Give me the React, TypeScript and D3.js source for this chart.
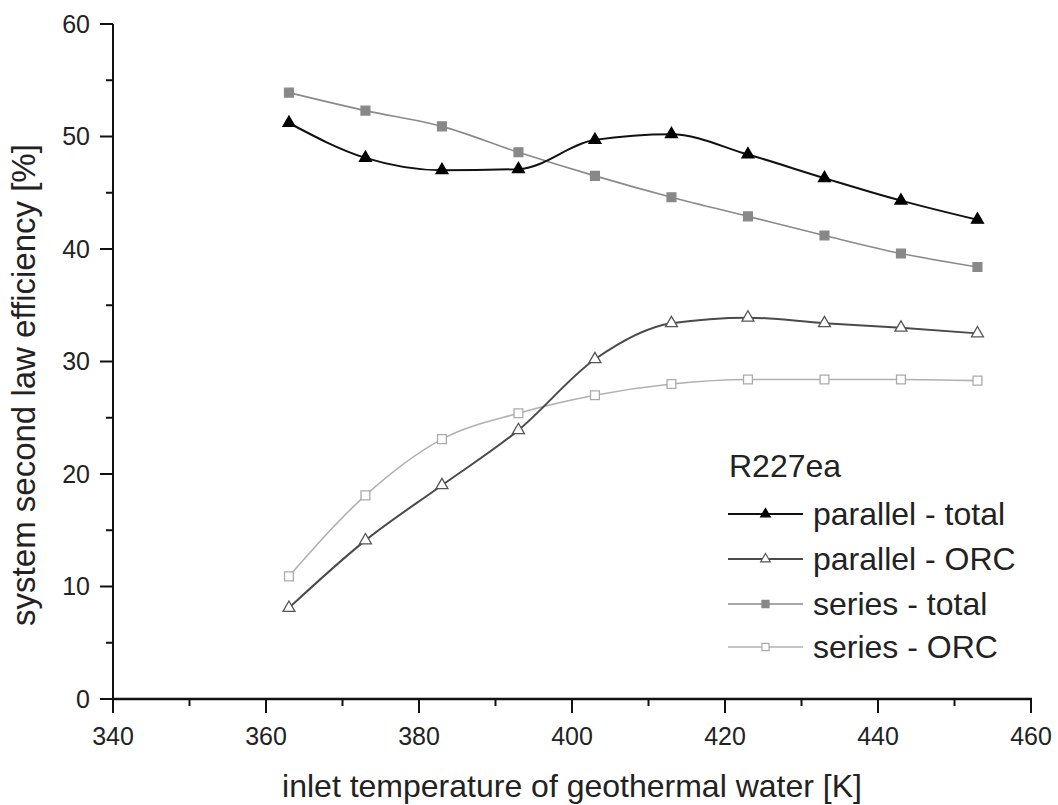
import React from "react";
import * as d3 from "d3";

const temperatures = [363, 373, 383, 393, 403, 413, 423, 433, 443, 453];
const parallelTotal = [51.2, 48.1, 47.0, 47.1, 49.7, 50.2, 48.4, 46.3, 44.3, 42.6];
const parallelORC = [8.1, 14.1, 19.0, 23.9, 30.2, 33.4, 33.9, 33.4, 33.0, 32.5];
const seriesTotal = [53.9, 52.3, 50.9, 48.6, 46.5, 44.6, 42.9, 41.2, 39.6, 38.4];
const seriesORC = [10.9, 18.1, 23.1, 25.4, 27.0, 28.0, 28.4, 28.4, 28.4, 28.3];

const xMajorTicks = [340, 360, 380, 400, 420, 440, 460];
const xMinorTicks = [350, 370, 390, 410, 430, 450];
const yMajorTicks = [0, 10, 20, 30, 40, 50, 60];
const yMinorTicks = [5, 15, 25, 35, 45, 55];

const legendTitle = "R227ea";
const xTitle = "inlet temperature of geothermal water [K]";
const yTitle = "system second law efficiency [%]";

type Series = {
  name: string;
  values: number[];
  symbol: "triangle" | "square";
  stroke: string;
  lineWidth: number;
  fill: string;
  markerStroke: string;
};

const seriesList: Series[] = [
  { name: "parallel - total", values: parallelTotal, symbol: "triangle", stroke: "#111", lineWidth: 2, fill: "#000", markerStroke: "#000" },
  { name: "parallel - ORC", values: parallelORC, symbol: "triangle", stroke: "#4a4a4a", lineWidth: 2, fill: "#fff", markerStroke: "#555" },
  { name: "series - total", values: seriesTotal, symbol: "square", stroke: "#8a8a8a", lineWidth: 1.6, fill: "#888", markerStroke: "#888" },
  { name: "series - ORC", values: seriesORC, symbol: "square", stroke: "#b0b0b0", lineWidth: 1.6, fill: "#fff", markerStroke: "#aaa" },
];

const FONT = "Arial, 'Liberation Sans', Helvetica, sans-serif";

export default function App() {
  React.useEffect(() => {
    document.body.style.margin = "0";
  }, []);

  const W = 1058;
  const H = 805;
  const left = 113;
  const right = 1031;
  const top = 24;
  const bottom = 699;

  const x = d3.scaleLinear().domain([340, 460]).range([left, right]);
  const y = d3.scaleLinear().domain([0, 60]).range([bottom, top]);

  const line = d3
    .line<number>()
    .x((_, i) => x(temperatures[i]))
    .y((d) => y(d))
    .curve(d3.curveMonotoneX);

  const symPath = (s: Series, big: boolean) => {
    const type = s.symbol === "triangle" ? d3.symbolTriangle : d3.symbolSquare;
    const size = s.symbol === "triangle" ? (big ? 62 : 40) : big ? 78 : 50;
    return d3.symbol().type(type).size(size)() as string;
  };

  const legendX0 = 728;
  const legendX1 = 803;
  const legendRows = [514, 559, 604, 647];

  return (
    <svg width={W} height={H} style={{ position: "absolute", left: 0, top: 0, background: "#fff" }} fontFamily={FONT}>
      <rect x={0} y={0} width={W} height={H} fill="#fff" />
      {/* axes */}
      <line x1={left} x2={left} y1={top} y2={bottom + 1} stroke="#111" strokeWidth={2} />
      <line x1={left - 1} x2={right + 1} y1={bottom} y2={bottom} stroke="#111" strokeWidth={2.5} />
      {yMajorTicks.map((t) => (
        <g key={"ym" + t}>
          <line x1={left - 13} x2={left} y1={y(t)} y2={y(t)} stroke="#111" strokeWidth={2} />
          <text x={90} y={y(t)} dy="0.35em" textAnchor="end" fontSize={25} fill="#222">
            {t}
          </text>
        </g>
      ))}
      {yMinorTicks.map((t) => (
        <line key={"yn" + t} x1={left - 7} x2={left} y1={y(t)} y2={y(t)} stroke="#111" strokeWidth={2} />
      ))}
      {xMajorTicks.map((t) => (
        <g key={"xm" + t}>
          <line x1={x(t)} x2={x(t)} y1={bottom} y2={bottom + 14} stroke="#111" strokeWidth={2} />
          <text x={x(t)} y={745} textAnchor="middle" fontSize={25} fill="#222">
            {t}
          </text>
        </g>
      ))}
      {xMinorTicks.map((t) => (
        <line key={"xn" + t} x1={x(t)} x2={x(t)} y1={bottom} y2={bottom + 7} stroke="#111" strokeWidth={2} />
      ))}
      {/* titles */}
      <text x={572} y={797} textAnchor="middle" fontSize={32} fill="#222">
        {xTitle}
      </text>
      <text transform="translate(35,385) rotate(-90)" textAnchor="middle" fontSize={33} fill="#222">
        {yTitle}
      </text>
      {/* series lines (draw lighter first) */}
      {[...seriesList].reverse().map((s) => (
        <path key={"l" + s.name} d={line(s.values) as string} fill="none" stroke={s.stroke} strokeWidth={s.lineWidth} />
      ))}
      {[...seriesList].reverse().map((s) => (
        <g key={"m" + s.name}>
          {s.values.map((v, i) => (
            <path
              key={i}
              d={symPath(s, true)}
              transform={`translate(${x(temperatures[i])},${y(v)})`}
              fill={s.fill}
              stroke={s.markerStroke}
              strokeWidth={1.3}
            />
          ))}
        </g>
      ))}
      {/* legend */}
      <text x={729} y={477} fontSize={32} fill="#222">
        {legendTitle}
      </text>
      {seriesList.map((s, i) => {
        const ly = legendRows[i];
        return (
          <g key={"lg" + s.name}>
            <line x1={legendX0} x2={legendX1} y1={ly} y2={ly} stroke={s.stroke} strokeWidth={s.lineWidth} />
            <path
              d={symPath(s, false)}
              transform={`translate(${(legendX0 + legendX1) / 2},${ly})`}
              fill={s.fill}
              stroke={s.markerStroke}
              strokeWidth={1.2}
            />
            <text x={813} y={ly + 11} fontSize={32} fill="#222">
              {s.name}
            </text>
          </g>
        );
      })}
    </svg>
  );
}
